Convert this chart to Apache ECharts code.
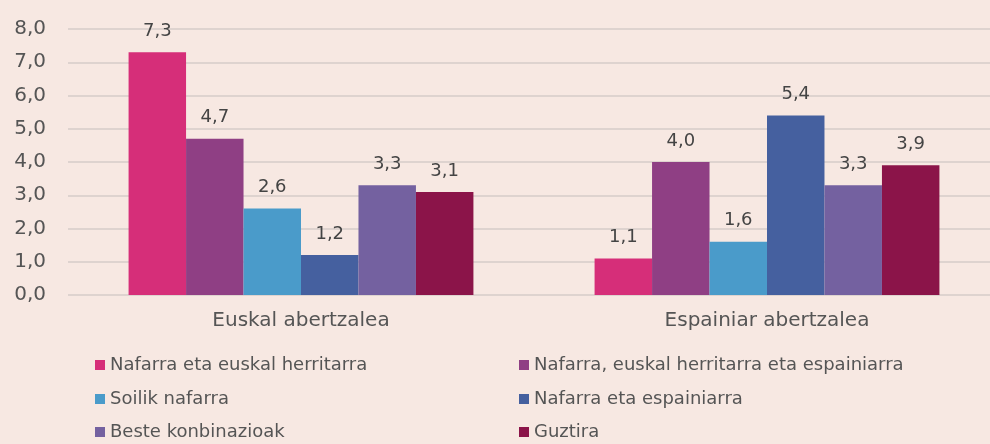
<!DOCTYPE html>
<html><head><meta charset="utf-8">
<script src="https://cdn.jsdelivr.net/npm/echarts@6/dist/echarts.min.js"></script>
<style>html,body{margin:0;padding:0;background:#F7E8E2;}#c{width:990px;height:444px;}</style>
</head><body><div id="c"></div>
<script>
const categories = ['Euskal abertzalea', 'Espainiar abertzalea'];
const seriesNames = ['Nafarra eta euskal herritarra', 'Nafarra, euskal herritarra eta espainiarra', 'Soilik nafarra', 'Nafarra eta espainiarra', 'Beste konbinazioak', 'Guztira'];
const nafarraEuskal = [7.3, 1.1];
const nafarraEuskalEspainiar = [4.7, 4.0];
const soilikNafarra = [2.6, 1.6];
const nafarraEspainiar = [1.2, 5.4];
const beste = [3.3, 3.3];
const guztira = [3.1, 3.9];
const yTicks = [0, 1, 2, 3, 4, 5, 6, 7, 8];
const colors = ['#D62E79', '#8F3F84', '#4A9BCA', '#45609F', '#7461A0', '#8B1449'];
const values = [nafarraEuskal, nafarraEuskalEspainiar, soilikNafarra, nafarraEspainiar, beste, guztira];
const fmt = v => v.toFixed(1).replace('.', ',');
const font = 'DejaVu Sans';
const legendLeft = [95, 519];
const legendTop = [356, 390, 423];
const chart = echarts.init(document.getElementById('c'));
chart.setOption({
  backgroundColor: '#F7E8E2',
  animation: false,
  textStyle: {fontFamily: font},
  grid: {left: 68, width: 932, top: 29, height: 266, outerBoundsMode: 'none', containLabel: false},
  xAxis: {
    type: 'category', data: categories,
    axisLine: {show: false}, axisTick: {show: false},
    axisLabel: {color: '#555', fontSize: 20, margin: 16, fontFamily: font}
  },
  yAxis: {
    type: 'value', min: yTicks[0], max: yTicks[yTicks.length - 1], interval: 1,
    axisLabel: {color: '#555', fontSize: 20, margin: 22, formatter: fmt, fontFamily: font},
    splitLine: {lineStyle: {color: '#D6CDC9', width: 1.5}},
    axisLine: {show: false}, axisTick: {show: false}
  },
  legend: seriesNames.map((n, i) => ({
    left: legendLeft[i % 2], top: legendTop[Math.floor(i / 2)],
    itemWidth: 10, itemHeight: 10, itemGap: 5, icon: 'rect', padding: 0,
    textStyle: {color: '#555', fontSize: 18, fontFamily: font},
    data: [n]
  })),
  series: seriesNames.map((n, i) => ({
    name: n, type: 'bar', data: values[i],
    barGap: '0%', barCategoryGap: '26%',
    itemStyle: {color: colors[i]},
    label: {show: true, position: 'top', distance: 12, color: '#444', fontSize: 18, fontFamily: font,
      formatter: p => fmt(p.value)}
  }))
});
</script></body></html>
